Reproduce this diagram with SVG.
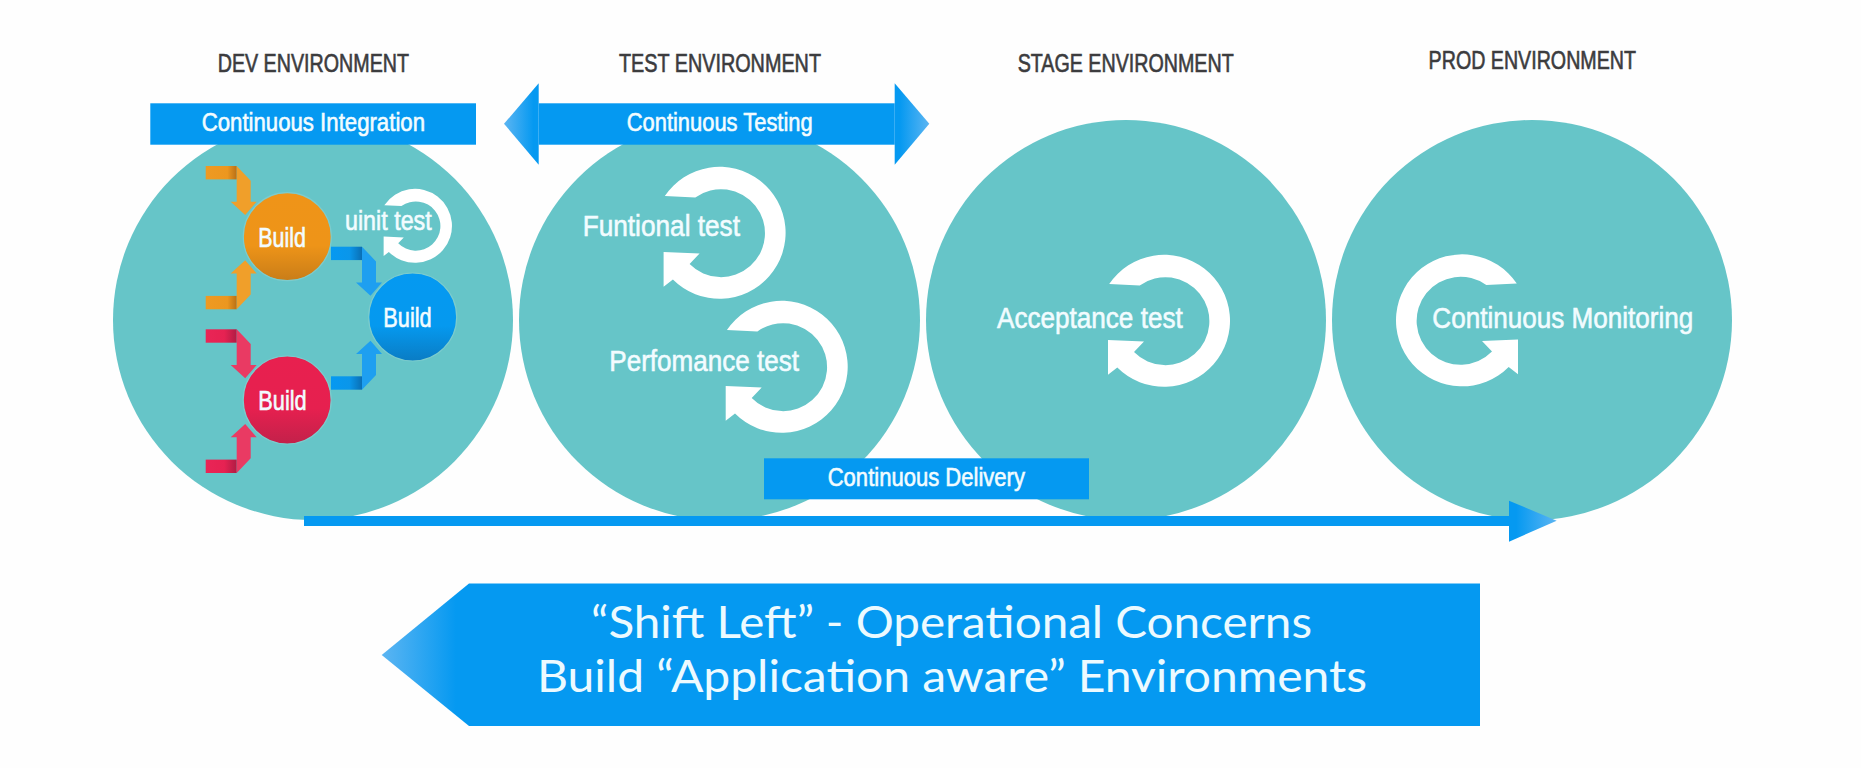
<svg xmlns="http://www.w3.org/2000/svg" width="1861" height="768" viewBox="0 0 1861 768">
<style>
.env{fill:#66c5c8}
.cyc{fill:#fff}
.band{fill:#0599f1}
.h{font-family:"Liberation Sans",Arial,sans-serif;font-size:26px;fill:#3c3c3e;stroke:#3c3c3e;stroke-width:.65}
.t{font-family:"Liberation Sans",Arial,sans-serif;fill:#f2fcff;stroke:#f2fcff;stroke-width:.6}
.l{font-size:26px}
.m{font-size:30px}
.b{font-size:27px}
.big{font-family:Lato,"Open Sans",sans-serif;font-size:44.5px;fill:#ecfaff}
</style>
<defs>
<linearGradient id="gOB" x1="0" x2="1" y1="0" y2="0"><stop offset="0" stop-color="#ee9a22"/><stop offset=".7" stop-color="#ec971f"/><stop offset="1" stop-color="#b97016"/></linearGradient>
<linearGradient id="gRB" x1="0" x2="1" y1="0" y2="0"><stop offset="0" stop-color="#e92556"/><stop offset=".6" stop-color="#e62252"/><stop offset="1" stop-color="#b01c44"/></linearGradient>
<linearGradient id="gBB" x1="0" x2="1" y1="0" y2="0"><stop offset="0" stop-color="#0599f1"/><stop offset=".6" stop-color="#0a96ea"/><stop offset="1" stop-color="#0a6fb4"/></linearGradient>
<linearGradient id="cO" x1="0" x2="0" y1="0" y2="1"><stop offset="0" stop-color="#ef9418"/><stop offset=".6" stop-color="#ee9418"/><stop offset="1" stop-color="#c97d18"/></linearGradient>
<linearGradient id="cB" x1="0" x2="0" y1="0" y2="1"><stop offset="0" stop-color="#0599f1"/><stop offset=".6" stop-color="#0599ef"/><stop offset="1" stop-color="#0a7cc4"/></linearGradient>
<linearGradient id="cR" x1="0" x2="0" y1="0" y2="1"><stop offset="0" stop-color="#e8204f"/><stop offset=".6" stop-color="#e6204f"/><stop offset="1" stop-color="#c2214a"/></linearGradient>
<linearGradient id="tipL" x1="0" x2="1" y1="0" y2="0"><stop offset="0" stop-color="#5cb5f2"/><stop offset=".85" stop-color="#0599f1"/><stop offset="1" stop-color="#0599f1"/></linearGradient>
<linearGradient id="tipR" x1="1" x2="0" y1="0" y2="0"><stop offset="0" stop-color="#5cb5f2"/><stop offset=".85" stop-color="#0599f1"/><stop offset="1" stop-color="#0599f1"/></linearGradient>
<path id="cycle" d="M-54.8-36.7A66 66 0 1 1-46.7 46.7L-56 54V19.3L-20 20.7-30 31.3A44 44 0 1 0-24.3-35.3Z"/>
<polygon id="abar" points="0,0 31,0 31,13.4 0,13.4"/>
<polygon id="ahead" points="31,0 45,14.7 45,35.7 51,35.7 39.5,49 25,35.7 31,35.7 31,13.4"/>
</defs>
<rect width="1861" height="768" fill="#fefefe"/>
<g id="env-dev"><circle class="env" cx="313" cy="320" r="200"/></g>
<g id="env-test"><circle class="env" cx="719.5" cy="320" r="200.5"/></g>
<g id="env-stage"><circle class="env" cx="1126" cy="320" r="200"/></g>
<g id="env-prod"><circle class="env" cx="1532" cy="320" r="200"/></g>
<g id="connectors">
<g transform="translate(205.7 166)"><use href="#abar" fill="url(#gOB)"/><use href="#ahead" fill="#f09f2a"/></g>
<g transform="translate(205.7 309.3) scale(1 -1)"><use href="#abar" fill="url(#gOB)"/><use href="#ahead" fill="#f09f2a"/></g>
<g transform="translate(205.7 329.3)"><use href="#abar" fill="url(#gRB)"/><use href="#ahead" fill="#e93a63"/></g>
<g transform="translate(205.7 473) scale(1 -1)"><use href="#abar" fill="url(#gRB)"/><use href="#ahead" fill="#e93a63"/></g>
<g transform="translate(331 246.7)"><use href="#abar" fill="url(#gBB)"/><use href="#ahead" fill="#1e9ff0"/></g>
<g transform="translate(331 389.7) scale(1 -1)"><use href="#abar" fill="url(#gBB)"/><use href="#ahead" fill="#1e9ff0"/></g>
<rect class="band" x="304" y="516" width="1206" height="10"/>
<polygon points="1509,500.7 1556.7,520.7 1509,541.7" fill="url(#tipR)"/>
</g>
<g id="node-build-orange"><circle cx="287.3" cy="236.7" r="44" fill="url(#cO)" stroke="#7ccccd" stroke-width="1.2"/><text class="t b" x="258.3" y="246.7" textLength="47.7" lengthAdjust="spacingAndGlyphs">Build</text></g>
<g id="node-build-blue"><circle cx="412.7" cy="317" r="44" fill="url(#cB)" stroke="#7ccccd" stroke-width="1.2"/><text class="t b" x="383.3" y="326.7" textLength="48.4" lengthAdjust="spacingAndGlyphs">Build</text></g>
<g id="node-build-red"><circle cx="287.2" cy="400" r="44" fill="url(#cR)" stroke="#7ccccd" stroke-width="1.2"/><text class="t b" x="258.3" y="410" textLength="48.4" lengthAdjust="spacingAndGlyphs">Build</text></g>
<g id="node-unit-test"><use class="cyc" href="#cycle" transform="translate(415 225.8) scale(.56)"/><text class="t b" x="345" y="230" textLength="86.7" lengthAdjust="spacingAndGlyphs">uinit test</text></g>
<g id="node-functional-test"><use class="cyc" href="#cycle" transform="translate(719.6 232.7)"/><text class="t m" x="582.7" y="236" textLength="157.3" lengthAdjust="spacingAndGlyphs">Funtional test</text></g>
<g id="node-performance-test"><use class="cyc" href="#cycle" transform="translate(781.7 366.7)"/><text class="t m" x="609.3" y="370.7" textLength="189.7" lengthAdjust="spacingAndGlyphs">Perfomance test</text></g>
<g id="node-acceptance-test"><use class="cyc" href="#cycle" transform="translate(1164 320.7)"/><text class="t m" x="997" y="328.3" textLength="185.7" lengthAdjust="spacingAndGlyphs">Acceptance test</text></g>
<g id="node-monitoring"><use class="cyc" href="#cycle" transform="translate(1462 320.3) scale(-1 1)"/><text class="t m" x="1432.3" y="328.3" textLength="261" lengthAdjust="spacingAndGlyphs">Continuous Monitoring</text></g>
<g id="banner-integration"><rect class="band" x="150.3" y="103.3" width="325.7" height="41.4"/><text class="t l" x="201.7" y="130.7" textLength="223.3" lengthAdjust="spacingAndGlyphs">Continuous Integration</text></g>
<g id="banner-testing"><rect class="band" x="538.7" y="103.3" width="356" height="41.4"/><polygon points="538.7,83.3 504,123.8 538.7,164.7" fill="url(#tipL)"/><polygon points="894.7,83.3 929.3,123.8 894.7,164.7" fill="url(#tipR)"/><text class="t l" x="626.7" y="130.7" textLength="186" lengthAdjust="spacingAndGlyphs">Continuous Testing</text></g>
<g id="banner-delivery"><rect class="band" x="764" y="458.3" width="325" height="41"/><text class="t l" x="827.7" y="486.3" textLength="197.3" lengthAdjust="spacingAndGlyphs">Continuous Delivery</text></g>
<g id="headers">
<text class="h" x="217.7" y="72" textLength="191.3" lengthAdjust="spacingAndGlyphs">DEV ENVIRONMENT</text>
<text class="h" x="619" y="72" textLength="202" lengthAdjust="spacingAndGlyphs">TEST ENVIRONMENT</text>
<text class="h" x="1017.7" y="72" textLength="216" lengthAdjust="spacingAndGlyphs">STAGE ENVIRONMENT</text>
<text class="h" x="1428.6" y="69" textLength="207.4" lengthAdjust="spacingAndGlyphs">PROD ENVIRONMENT</text>
</g>
<g id="shift-left">
<polygon points="381.7,655 469,583.5 469,726" fill="url(#tipL)"/>
<rect class="band" x="469" y="583.5" width="1011" height="142.5"/>
<text class="big" x="591" y="638.3" textLength="721" lengthAdjust="spacingAndGlyphs">“Shift Left” - Operational Concerns</text>
<text class="big" x="537" y="691.7" textLength="830" lengthAdjust="spacingAndGlyphs">Build “Application aware” Environments</text>
</g>
</svg>
